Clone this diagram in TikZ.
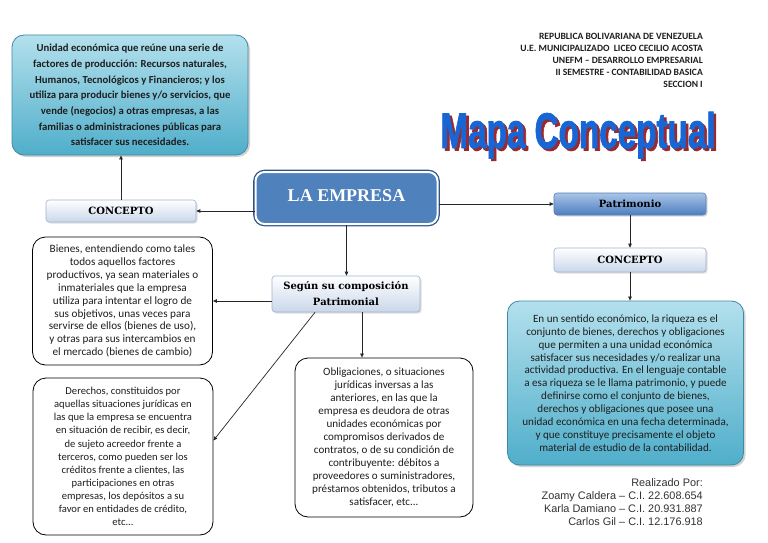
\documentclass[tikz,border=0pt]{standalone}
\usepackage{fontspec}
\setmainfont{Carlito}
\newfontfamily\slabf{DejaVu Serif}
\newfontfamily\timesf{Liberation Serif}
\newfontfamily\arialf{Liberation Sans}
\usetikzlibrary{arrows.meta,shadows}
\definecolor{cyanTop}{HTML}{B3E0ED}
\definecolor{cyanBot}{HTML}{50AECA}
\definecolor{cyanLine}{HTML}{3F8BA3}
\definecolor{lightBot}{HTML}{C9D7EA}
\definecolor{lightLine}{HTML}{9FB3CF}
\definecolor{patTop}{HTML}{AAC4E8}
\definecolor{patBot}{HTML}{4D7EC0}
\definecolor{patLine}{HTML}{5A7FB0}
\definecolor{empFill}{HTML}{4F81BD}
\definecolor{empLine}{HTML}{2F5588}
\definecolor{wordBlue}{HTML}{1766D6}
\definecolor{wordRed}{HTML}{9B2A2E}
\definecolor{darkTxt}{HTML}{1E1E1E}
\newcommand{\mcttl}{\scalebox{0.665}[1.0]{Mapa Conceptual}}
\newcommand{\mcthick}[1]{\special{pdf:literal direct 2 Tr 0.9 w}#1\special{pdf:literal direct 0 Tr}}
\tikzset{
  cyanbox/.style={draw=cyanLine, line width=0.8pt, rounded corners=12pt,
    top color=cyanTop, bottom color=cyanBot, align=center, text=darkTxt,
    inner sep=0pt, drop shadow={opacity=0.35, shadow xshift=2pt, shadow yshift=-2pt}},
  whitebox/.style={draw=black, line width=0.8pt, rounded corners=13pt, fill=white,
    align=center, text=darkTxt, inner sep=0pt},
  lightbox/.style={draw=lightLine, line width=0.6pt, rounded corners=3pt,
    top color=white, bottom color=lightBot, inner sep=0pt,
    font=\slabf\bfseries\fontsize{10}{16}\selectfont, text=black,
    drop shadow={opacity=0.25, shadow xshift=1.5pt, shadow yshift=-1.5pt}},
  patbox/.style={draw=patLine, line width=0.6pt, rounded corners=3pt,
    top color=patTop, bottom color=patBot, inner sep=0pt,
    font=\slabf\bfseries\fontsize{10}{12}\selectfont, text=black,
    drop shadow={opacity=0.3, shadow xshift=1.5pt, shadow yshift=-1.5pt}},
  empbox/.style={draw=white, line width=2pt, rounded corners=9pt, fill=empFill,
    preaction={draw=empLine, line width=4.6pt}, inner sep=0pt,
    font=\timesf\bfseries\fontsize{18}{20}\selectfont, text=white},
  conn/.style={draw=black!85, line width=0.7pt},
  arr/.style={conn, -{Triangle[length=4pt,width=3.5pt]}},
}
\begin{document}
\begin{tikzpicture}[x=1pt,y=-1pt]
\useasboundingbox[fill=white] (0,0) rectangle (768,543);

% top-left definition box
\node[cyanbox, minimum width=236pt, minimum height=120pt,
  font=\bfseries\fontsize{10.7}{15.7}\selectfont] (def) at (130,95)
  {Unidad económica que reúne una serie de\\
   factores de producción: Recursos naturales,\\
   Humanos, Tecnológicos y Financieros; y los\\
   utiliza para producir bienes y/o servicios, que\\
   vende (negocios) a otras empresas, a las\\
   familias o administraciones públicas para\\
   satisfacer sus necesidades.};

\node[lightbox, minimum width=150pt, minimum height=22pt] (concL) at (121,211) {CONCEPTO};

\node[empbox, minimum width=182pt, minimum height=52pt] (emp) at (346.5,198) {\raisebox{4.5pt}{LA EMPRESA}};

\node[patbox, minimum width=152pt, minimum height=22pt] (pat) at (630,204) {Patrimonio};
\node[lightbox, minimum width=152pt, minimum height=24pt] (concR) at (630,260) {CONCEPTO};

\node[cyanbox, minimum width=236pt, minimum height=164pt,
  font=\fontsize{11.1}{12.9}\selectfont] (patdef) at (625.5,383)
  {En un sentido económico, la riqueza es el\\
   conjunto de bienes, derechos y obligaciones\\
   que permiten a una unidad económica\\
   satisfacer sus necesidades y/o realizar una\\
   actividad productiva. En el lenguaje contable\\
   a esa riqueza se le llama patrimonio, y puede\\
   definirse como el conjunto de bienes,\\
   derechos y obligaciones que posee una\\
   unidad económica en una fecha determinada,\\
   y que constituye precisamente el objeto\\
   material de estudio de la contabilidad.};

\node[lightbox, minimum width=148pt, minimum height=36pt, align=center] (seg) at (346,294)
  {Según su composición\\Patrimonial};

\node[whitebox, minimum width=180pt, minimum height=128pt,
  font=\fontsize{11.2}{12.9}\selectfont] (bien) at (122.5,301)
  {Bienes, entendiendo como tales\\
   todos aquellos factores\\
   productivos, ya sean materiales o\\
   inmateriales que la empresa\\
   utiliza para intentar el logro de\\
   sus objetivos, unas veces para\\
   servirse de ellos (bienes de uso),\\
   y otras para sus intercambios en\\
   el mercado (bienes de cambio)};

\node[whitebox, minimum width=180pt, minimum height=157pt,
  font=\fontsize{10.6}{13.1}\selectfont] (der) at (123,456.5)
  {Derechos, constituidos por\\
   aquellas situaciones jurídicas en\\
   las que la empresa se encuentra\\
   en situación de recibir, es decir,\\
   de sujeto acreedor frente a\\
   terceros, como pueden ser los\\
   créditos frente a clientes, las\\
   participaciones en otras\\
   empresas, los depósitos a su\\
   favor en entidades de crédito,\\
   etc...};

\node[whitebox, minimum width=178pt, minimum height=159pt,
  font=\fontsize{11.1}{13}\selectfont] (obl) at (384,437.5)
  {Obligaciones, o situaciones\\
   jurídicas inversas a las\\
   anteriores, en las que la\\
   empresa es deudora de otras\\
   unidades económicas por\\
   compromisos derivados de\\
   contratos, o de su condición de\\
   contribuyente: débitos a\\
   proveedores o suministradores,\\
   préstamos obtenidos, tributos a\\
   satisfacer, etc...};

% header
\node[anchor=north east, align=right, inner sep=0pt, text=darkTxt,
  font=\bfseries\fontsize{9.6}{12}\selectfont] (head) at (703,33)
  {REPUBLICA BOLIVARIANA DE VENEZUELA\\
   U.E. MUNICIPALIZADO\ \ LICEO CECILIO ACOSTA\\
   UNEFM – DESARROLLO EMPRESARIAL\\
   II SEMESTRE - CONTABILIDAD BASICA\\
   SECCION I};

% title word art
\node[anchor=base, inner sep=0pt, font=\arialf\bfseries\fontsize{50}{52}\selectfont]
  (title) at (578,148)
  {\makebox[0pt][l]{\hspace{2.6pt}\raisebox{-2.4pt}{\textcolor{wordRed}{\mcthick{\mcttl}}}}%
   \textcolor{wordBlue}{\mcthick{\mcttl}}};

% authors
\node[anchor=north east, align=right, inner sep=0pt, text=black!80,
  font=\arialf\fontsize{10.9}{13.1}\selectfont] (auth) at (703,478)
  {Realizado Por:\\
   Zoamy Caldera – C.I. 22.608.654\\
   Karla Damiano – C.I. 20.931.887\\
   Carlos Gil – C.I. 12.176.918};

% connectors
\draw[arr] (concL.north) -- (concL.north |- def.south);
\draw[arr] (emp.west |- concL.east) -- (concL.east);
\draw[arr] (emp.east |- pat.west) -- (pat.west);
\draw[arr] (pat.south) -- (concR.north);
\draw[arr] (concR.south) -- (concR.south |- patdef.north);
\draw[arr] (emp.south) -- (emp.south |- seg.north);
\draw[arr] (seg.west |- bien.east) -- (bien.east);
\draw[arr] ([xshift=-31pt]seg.south) -- ([yshift=16pt]der.east);
\draw[arr] ([xshift=16pt]seg.south) -- ([xshift=16pt]seg.south |- obl.north);
\end{tikzpicture}
\end{document}
